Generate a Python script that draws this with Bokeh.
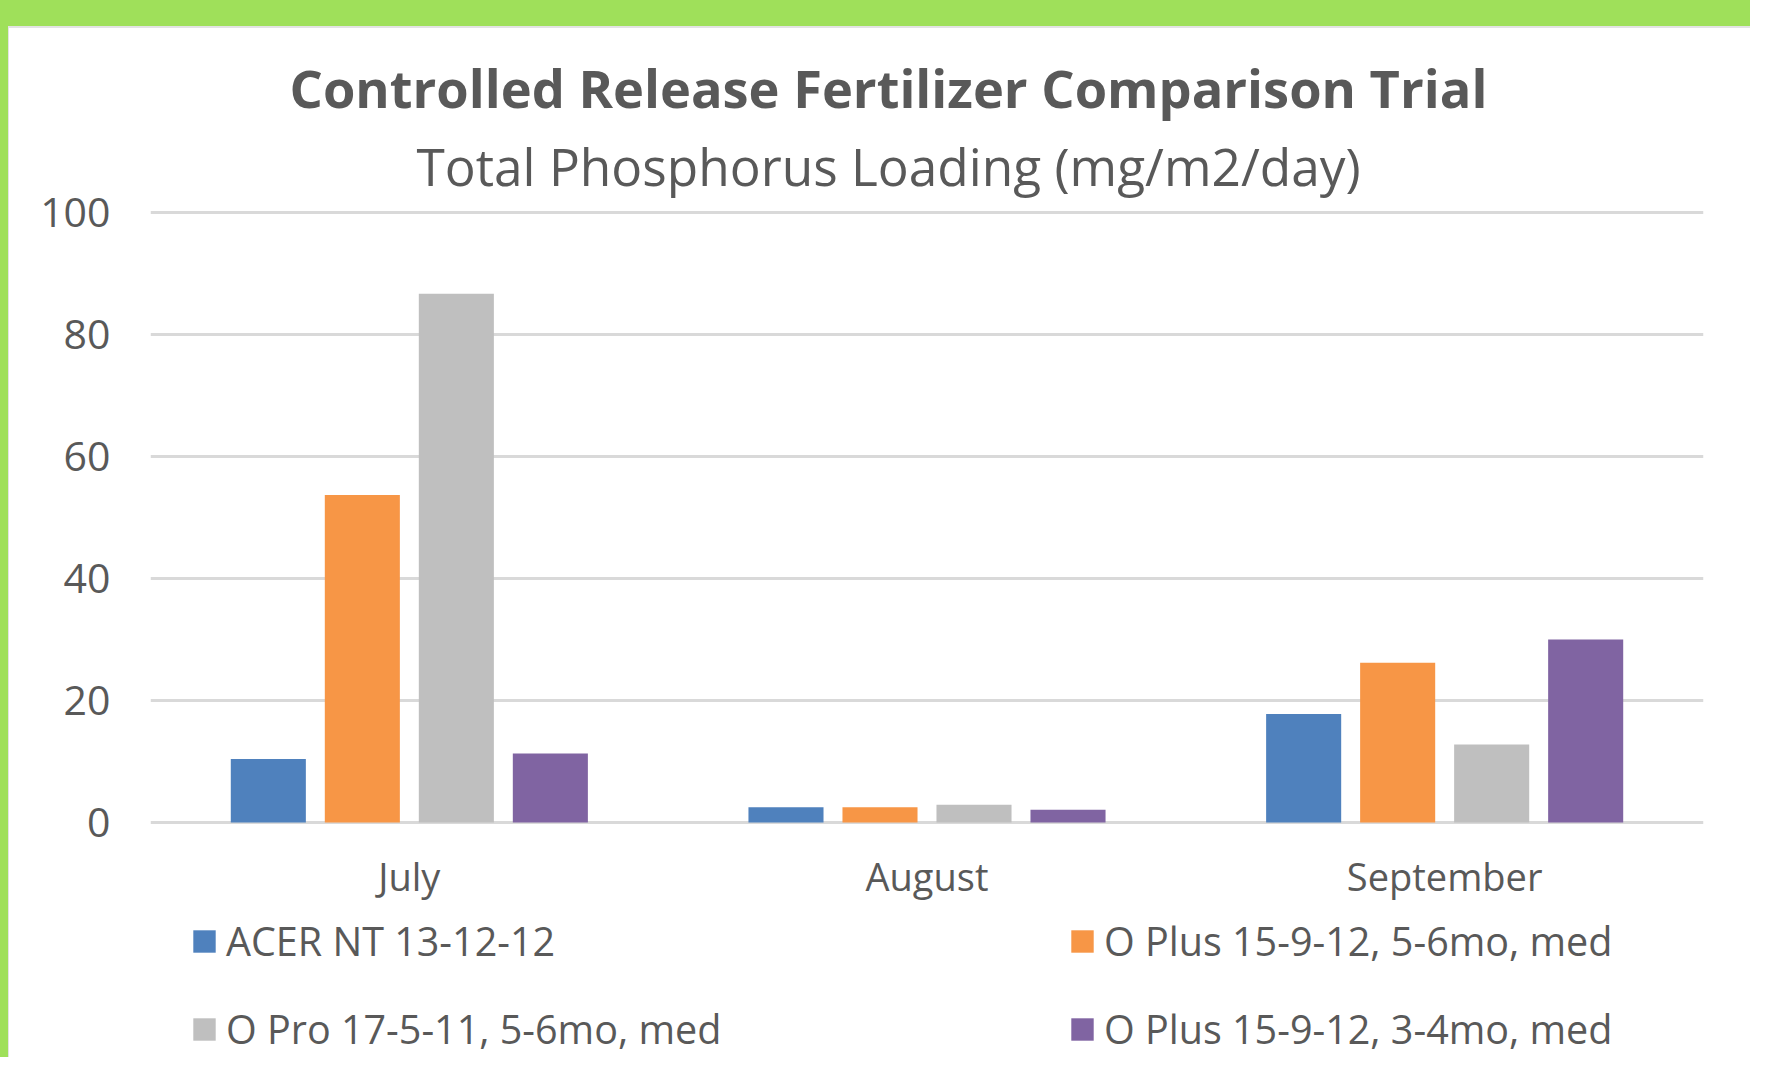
from bokeh.plotting import figure
from bokeh.models import (Range1d, FactorRange, Title, Legend, LegendItem,
                          ColumnDataSource)
from bokeh.transform import dodge
from bokeh.embed import file_html
from bokeh.resources import INLINE

# ---- data ----
months = ["July", "August", "September"]
series_names = ["ACER NT 13-12-12", "O Plus 15-9-12, 5-6mo, med",
                "O Pro 17-5-11, 5-6mo, med", "O Plus 15-9-12, 3-4mo, med"]
acer = [10.4, 2.5, 17.8]
oplus_56 = [53.7, 2.5, 26.2]
opro_56 = [86.7, 2.9, 12.8]
oplus_34 = [11.3, 2.1, 30.0]
y_ticks = [0, 20, 40, 60, 80, 100]

title_text = "Controlled Release Fertilizer Comparison Trial"
subtitle_text = "Total Phosphorus Loading (mg/m2/day)"

# ---- style ----
colors = ["#4F81BD", "#F79646", "#BFBFBF", "#8064A2"]
offsets = [-0.2724, -0.0908, 0.0908, 0.2724]
TXT = "#595959"
FONT = "Open Sans"
GREEN = "#9FE05A"

src = ColumnDataSource(dict(month=months, s0=acer, s1=oplus_56, s2=opro_56, s3=oplus_34))

W, H = 1750, 1057
# the frame runs down to the bottom edge so the legend can sit inside it;
# the category axis is pinned at y = 0
p = figure(x_range=FactorRange(factors=months, range_padding=0),
           y_range=Range1d(-38.52, 100.5),
           width=W, height=H, output_backend="svg", toolbar_location=None,
           min_border_left=150, min_border_right=47,
           min_border_top=209, min_border_bottom=0)
p.outline_line_color = None
p.background_fill_color = "white"
p.border_fill_alpha = 0
# white card with a green band along the top and left edges
p.styles = {"background-color": "white",
            "box-shadow": f"inset 8px 26px 0 0 {GREEN}, inset 9px 28px 0 0 #E3E3E3"}

renderers = []
for i, key in enumerate(["s0", "s1", "s2", "s3"]):
    r = p.vbar(x=dodge("month", offsets[i], range=p.x_range), top=key, bottom=0,
               width=0.145, source=src, fill_color=colors[i], line_color=None)
    renderers.append(r)

# axes
p.yaxis.ticker = y_ticks
p.ygrid.ticker = y_ticks
p.ygrid.grid_line_color = "#D9D9D9"
p.ygrid.grid_line_width = 3
p.xgrid.visible = False
for ax in (p.xaxis[0], p.yaxis[0]):
    ax.axis_line_color = None
    ax.major_tick_line_color = None
    ax.minor_tick_line_color = None
    ax.major_tick_out = 0
    ax.major_tick_in = 0
    ax.major_label_text_font = FONT
    ax.major_label_text_color = TXT
p.xaxis.fixed_location = 0
p.yaxis.major_label_text_font_size = "41px"
p.xaxis.major_label_text_font_size = "38px"
p.yaxis.major_label_standoff = 40
p.xaxis.major_label_standoff = 27

# titles
sub = Title(text=subtitle_text, align="left", text_font=FONT, text_font_size="51.4px",
            text_font_style="normal", text_color=TXT, standoff=17, offset=266)
main = Title(text=title_text, align="left", text_font=FONT, text_font_size="52.4px",
             text_font_style="bold", text_color=TXT, standoff=-4, offset=139)
p.add_layout(sub, "above")
p.add_layout(main, "above")

# legend: two columns, each a vertical legend with two entries
def legend_col(idx, vx):
    leg = Legend(items=[LegendItem(label=series_names[i], renderers=[renderers[i]]) for i in idx],
                 location=(vx, 1), orientation="vertical",
                 padding=0, margin=0, spacing=34, label_standoff=8,
                 glyph_width=28, glyph_height=28, label_height=50,
                 label_text_font=FONT, label_text_font_size="39.5px", label_text_color=TXT,
                 border_line_color=None, background_fill_alpha=0)
    p.add_layout(leg)

legend_col([0, 2], 40)
legend_col([1, 3], 918)

open("out.html", "w").write(file_html(p, INLINE))
